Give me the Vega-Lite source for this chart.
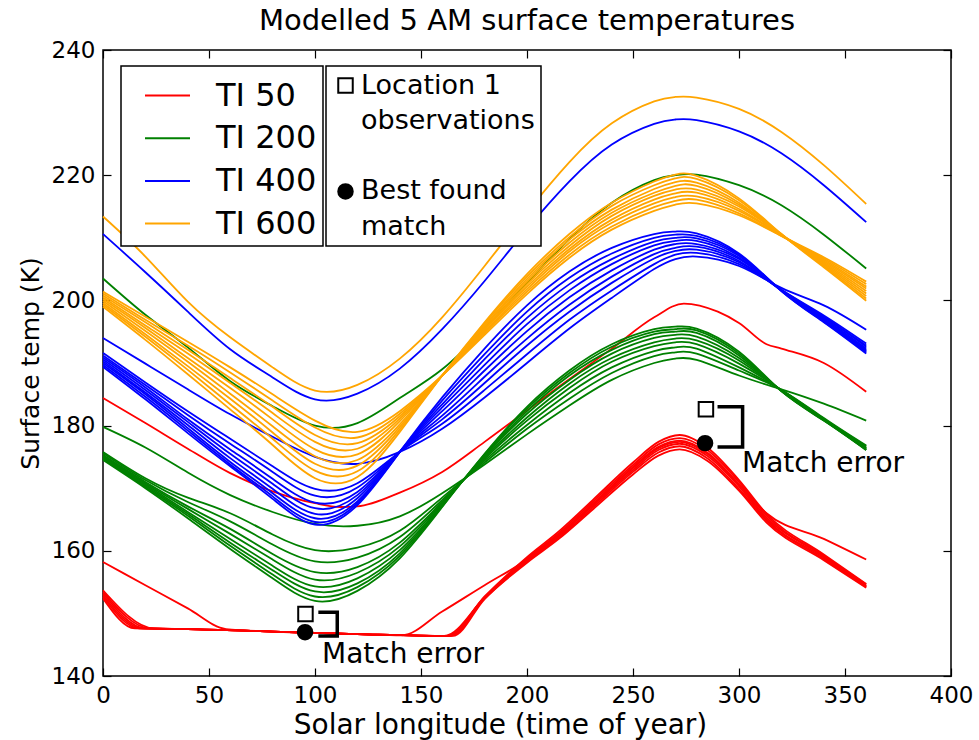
{
"$schema": "https://vega.github.io/schema/vega-lite/v6.json",
"width": 848, "height": 626,
"autosize": {"type": "none"},
"padding": {"left": 103, "top": 50, "right": 28, "bottom": 64},
"title": {"text": "Modelled 5 AM surface temperatures", "font": "DejaVu Sans", "fontSize": 29, "fontWeight": "normal", "color": "black", "offset": 3},
"config": {
  "view": {"stroke": "black", "strokeWidth": 1.5},
  "font": "DejaVu Sans",
  "axis": {"labelFont": "DejaVu Sans", "titleFont": "DejaVu Sans", "labelColor": "black", "titleColor": "black", "tickColor": "black", "domain": false, "grid": false, "titleFontWeight": "normal"},
  "legend": {"labelFont": "DejaVu Sans", "labelColor": "black", "strokeColor": "black", "fillColor": "white", "strokeWidth": 1.5}
},
"datasets": {
"curves": [
{"g":"TI 50","k":0,"x":0,"y":184.4},{"g":"TI 50","k":0,"x":20,"y":180.4},{"g":"TI 50","k":0,"x":40,"y":176.3},{"g":"TI 50","k":0,"x":60,"y":172.4},{"g":"TI 50","k":0,"x":80,"y":169.5},{"g":"TI 50","k":0,"x":100,"y":167.6},{"g":"TI 50","k":0,"x":112,"y":167.0},{"g":"TI 50","k":0,"x":120,"y":167.1},{"g":"TI 50","k":0,"x":140,"y":169.3},{"g":"TI 50","k":0,"x":160,"y":172.6},{"g":"TI 50","k":0,"x":180,"y":177.4},{"g":"TI 50","k":0,"x":200,"y":182.4},{"g":"TI 50","k":0,"x":215,"y":186.2},{"g":"TI 50","k":0,"x":240,"y":192.3},{"g":"TI 50","k":0,"x":260,"y":197.3},{"g":"TI 50","k":0,"x":274,"y":199.5},{"g":"TI 50","k":0,"x":290,"y":198.2},{"g":"TI 50","k":0,"x":300,"y":196.4},{"g":"TI 50","k":0,"x":313,"y":193.0},{"g":"TI 50","k":0,"x":320,"y":192.3},{"g":"TI 50","k":0,"x":340,"y":190.0},{"g":"TI 50","k":0,"x":360,"y":185.4},
{"g":"TI 50","k":1,"x":0,"y":158.2},{"g":"TI 50","k":1,"x":20,"y":154.5},{"g":"TI 50","k":1,"x":40,"y":150.8},{"g":"TI 50","k":1,"x":58,"y":147.5},{"g":"TI 50","k":1,"x":80,"y":147.1},{"g":"TI 50","k":1,"x":120,"y":146.7},{"g":"TI 50","k":1,"x":141,"y":146.5},{"g":"TI 50","k":1,"x":160,"y":150.3},{"g":"TI 50","k":1,"x":180,"y":154.5},{"g":"TI 50","k":1,"x":200,"y":158.6},{"g":"TI 50","k":1,"x":215,"y":162.5},{"g":"TI 50","k":1,"x":231,"y":167.4},{"g":"TI 50","k":1,"x":250,"y":173.2},{"g":"TI 50","k":1,"x":262,"y":176.4},{"g":"TI 50","k":1,"x":272,"y":177.4},{"g":"TI 50","k":1,"x":285,"y":175.5},{"g":"TI 50","k":1,"x":300,"y":170.6},{"g":"TI 50","k":1,"x":313,"y":166.0},{"g":"TI 50","k":1,"x":340,"y":161.9},{"g":"TI 50","k":1,"x":360,"y":158.6},
{"g":"TI 50","k":2,"x":0,"y":153.7},{"g":"TI 50","k":2,"x":24,"y":147.6},{"g":"TI 50","k":2,"x":40,"y":147.5},{"g":"TI 50","k":2,"x":80,"y":147.1},{"g":"TI 50","k":2,"x":120,"y":146.7},{"g":"TI 50","k":2,"x":163,"y":146.4},{"g":"TI 50","k":2,"x":180,"y":152.7},{"g":"TI 50","k":2,"x":200,"y":159.0},{"g":"TI 50","k":2,"x":215,"y":163.1},{"g":"TI 50","k":2,"x":231,"y":168.1},{"g":"TI 50","k":2,"x":250,"y":174.1},{"g":"TI 50","k":2,"x":262,"y":177.4},{"g":"TI 50","k":2,"x":272,"y":178.5},{"g":"TI 50","k":2,"x":285,"y":176.5},{"g":"TI 50","k":2,"x":300,"y":171.3},{"g":"TI 50","k":2,"x":313,"y":165.9},{"g":"TI 50","k":2,"x":340,"y":159.4},{"g":"TI 50","k":2,"x":360,"y":154.7},
{"g":"TI 50","k":3,"x":0,"y":153.45},{"g":"TI 50","k":3,"x":22,"y":147.6},{"g":"TI 50","k":3,"x":40,"y":147.5},{"g":"TI 50","k":3,"x":80,"y":147.1},{"g":"TI 50","k":3,"x":120,"y":146.7},{"g":"TI 50","k":3,"x":162,"y":146.4},{"g":"TI 50","k":3,"x":180,"y":152.6},{"g":"TI 50","k":3,"x":200,"y":158.8},{"g":"TI 50","k":3,"x":215,"y":162.8},{"g":"TI 50","k":3,"x":231,"y":167.8},{"g":"TI 50","k":3,"x":250,"y":173.7},{"g":"TI 50","k":3,"x":262,"y":177.0},{"g":"TI 50","k":3,"x":272,"y":178.0},{"g":"TI 50","k":3,"x":285,"y":176.1},{"g":"TI 50","k":3,"x":300,"y":171.0},{"g":"TI 50","k":3,"x":313,"y":165.6},{"g":"TI 50","k":3,"x":340,"y":159.2},{"g":"TI 50","k":3,"x":360,"y":154.6},
{"g":"TI 50","k":4,"x":0,"y":153.2},{"g":"TI 50","k":4,"x":20,"y":147.6},{"g":"TI 50","k":4,"x":40,"y":147.5},{"g":"TI 50","k":4,"x":80,"y":147.1},{"g":"TI 50","k":4,"x":120,"y":146.7},{"g":"TI 50","k":4,"x":161,"y":146.4},{"g":"TI 50","k":4,"x":180,"y":152.5},{"g":"TI 50","k":4,"x":200,"y":158.7},{"g":"TI 50","k":4,"x":215,"y":162.6},{"g":"TI 50","k":4,"x":231,"y":167.5},{"g":"TI 50","k":4,"x":250,"y":173.4},{"g":"TI 50","k":4,"x":262,"y":176.6},{"g":"TI 50","k":4,"x":272,"y":177.6},{"g":"TI 50","k":4,"x":285,"y":175.7},{"g":"TI 50","k":4,"x":300,"y":170.6},{"g":"TI 50","k":4,"x":313,"y":165.3},{"g":"TI 50","k":4,"x":340,"y":159.1},{"g":"TI 50","k":4,"x":360,"y":154.4},
{"g":"TI 50","k":5,"x":0,"y":152.9},{"g":"TI 50","k":5,"x":18.5,"y":147.6},{"g":"TI 50","k":5,"x":40,"y":147.5},{"g":"TI 50","k":5,"x":80,"y":147.1},{"g":"TI 50","k":5,"x":120,"y":146.7},{"g":"TI 50","k":5,"x":164,"y":146.4},{"g":"TI 50","k":5,"x":180,"y":152.4},{"g":"TI 50","k":5,"x":200,"y":158.5},{"g":"TI 50","k":5,"x":215,"y":162.3},{"g":"TI 50","k":5,"x":231,"y":167.2},{"g":"TI 50","k":5,"x":250,"y":172.9},{"g":"TI 50","k":5,"x":262,"y":176.1},{"g":"TI 50","k":5,"x":272,"y":177.1},{"g":"TI 50","k":5,"x":285,"y":175.2},{"g":"TI 50","k":5,"x":300,"y":170.3},{"g":"TI 50","k":5,"x":313,"y":165.0},{"g":"TI 50","k":5,"x":340,"y":158.9},{"g":"TI 50","k":5,"x":360,"y":154.3},
{"g":"TI 50","k":6,"x":0,"y":152.65},{"g":"TI 50","k":6,"x":17,"y":147.6},{"g":"TI 50","k":6,"x":40,"y":147.5},{"g":"TI 50","k":6,"x":80,"y":147.1},{"g":"TI 50","k":6,"x":120,"y":146.7},{"g":"TI 50","k":6,"x":163,"y":146.4},{"g":"TI 50","k":6,"x":180,"y":152.4},{"g":"TI 50","k":6,"x":200,"y":158.3},{"g":"TI 50","k":6,"x":215,"y":162.1},{"g":"TI 50","k":6,"x":231,"y":166.9},{"g":"TI 50","k":6,"x":250,"y":172.6},{"g":"TI 50","k":6,"x":262,"y":175.7},{"g":"TI 50","k":6,"x":272,"y":176.7},{"g":"TI 50","k":6,"x":285,"y":174.8},{"g":"TI 50","k":6,"x":300,"y":169.9},{"g":"TI 50","k":6,"x":313,"y":164.8},{"g":"TI 50","k":6,"x":340,"y":158.7},{"g":"TI 50","k":6,"x":360,"y":154.2},
{"g":"TI 50","k":7,"x":0,"y":152.4},{"g":"TI 50","k":7,"x":15,"y":147.6},{"g":"TI 50","k":7,"x":40,"y":147.5},{"g":"TI 50","k":7,"x":80,"y":147.1},{"g":"TI 50","k":7,"x":120,"y":146.7},{"g":"TI 50","k":7,"x":165,"y":146.4},{"g":"TI 50","k":7,"x":180,"y":152.3},{"g":"TI 50","k":7,"x":200,"y":158.1},{"g":"TI 50","k":7,"x":215,"y":161.9},{"g":"TI 50","k":7,"x":231,"y":166.6},{"g":"TI 50","k":7,"x":250,"y":172.2},{"g":"TI 50","k":7,"x":262,"y":175.2},{"g":"TI 50","k":7,"x":272,"y":176.2},{"g":"TI 50","k":7,"x":285,"y":174.4},{"g":"TI 50","k":7,"x":300,"y":169.6},{"g":"TI 50","k":7,"x":313,"y":164.5},{"g":"TI 50","k":7,"x":340,"y":158.5},{"g":"TI 50","k":7,"x":360,"y":154.1},

{"g":"TI 200","k":0,"x":0,"y":203.5},{"g":"TI 200","k":0,"x":20,"y":197.7},{"g":"TI 200","k":0,"x":40,"y":192.5},{"g":"TI 200","k":0,"x":60,"y":187.1},{"g":"TI 200","k":0,"x":80,"y":183.1},{"g":"TI 200","k":0,"x":100,"y":180.0},{"g":"TI 200","k":0,"x":120,"y":180.4},{"g":"TI 200","k":0,"x":140,"y":184.4},{"g":"TI 200","k":0,"x":160,"y":189.0},{"g":"TI 200","k":0,"x":180,"y":195.5},{"g":"TI 200","k":0,"x":200,"y":202.8},{"g":"TI 200","k":0,"x":220,"y":209.8},{"g":"TI 200","k":0,"x":240,"y":215.6},{"g":"TI 200","k":0,"x":260,"y":219.2},{"g":"TI 200","k":0,"x":270,"y":220.0},{"g":"TI 200","k":0,"x":280,"y":220.1},{"g":"TI 200","k":0,"x":300,"y":218.4},{"g":"TI 200","k":0,"x":320,"y":215.2},{"g":"TI 200","k":0,"x":340,"y":210.5},{"g":"TI 200","k":0,"x":360,"y":205.1},
{"g":"TI 200","k":1,"x":0,"y":179.8},{"g":"TI 200","k":1,"x":20,"y":176.5},{"g":"TI 200","k":1,"x":40,"y":172.5},{"g":"TI 200","k":1,"x":60,"y":168.9},{"g":"TI 200","k":1,"x":80,"y":166.2},{"g":"TI 200","k":1,"x":100,"y":164.3},{"g":"TI 200","k":1,"x":120,"y":164.0},{"g":"TI 200","k":1,"x":140,"y":165.5},{"g":"TI 200","k":1,"x":160,"y":169.2},{"g":"TI 200","k":1,"x":180,"y":173.8},{"g":"TI 200","k":1,"x":200,"y":178.6},{"g":"TI 200","k":1,"x":220,"y":183.2},{"g":"TI 200","k":1,"x":240,"y":187.3},{"g":"TI 200","k":1,"x":260,"y":190.0},{"g":"TI 200","k":1,"x":270,"y":190.7},{"g":"TI 200","k":1,"x":280,"y":190.5},{"g":"TI 200","k":1,"x":300,"y":188.0},{"g":"TI 200","k":1,"x":320,"y":185.8},{"g":"TI 200","k":1,"x":340,"y":183.5},{"g":"TI 200","k":1,"x":360,"y":180.8},
{"g":"TI 200","k":2,"x":0,"y":175.8},{"g":"TI 200","k":2,"x":20,"y":171.6},{"g":"TI 200","k":2,"x":40,"y":168.5},{"g":"TI 200","k":2,"x":60,"y":166.0},{"g":"TI 200","k":2,"x":80,"y":162.6},{"g":"TI 200","k":2,"x":100,"y":160.1},{"g":"TI 200","k":2,"x":120,"y":160.5},{"g":"TI 200","k":2,"x":140,"y":163.2},{"g":"TI 200","k":2,"x":160,"y":168.5},{"g":"TI 200","k":2,"x":180,"y":174.1},{"g":"TI 200","k":2,"x":200,"y":179.5},{"g":"TI 200","k":2,"x":220,"y":184.3},{"g":"TI 200","k":2,"x":240,"y":188.4},{"g":"TI 200","k":2,"x":260,"y":191.1},{"g":"TI 200","k":2,"x":270,"y":191.7},{"g":"TI 200","k":2,"x":280,"y":191.5},{"g":"TI 200","k":2,"x":300,"y":188.8},{"g":"TI 200","k":2,"x":320,"y":185.7},{"g":"TI 200","k":2,"x":340,"y":181.2},{"g":"TI 200","k":2,"x":360,"y":176.8},
{"g":"TI 200","k":3,"x":0,"y":175.6},{"g":"TI 200","k":3,"x":20,"y":171.3},{"g":"TI 200","k":3,"x":40,"y":167.8},{"g":"TI 200","k":3,"x":60,"y":164.7},{"g":"TI 200","k":3,"x":80,"y":161.0},{"g":"TI 200","k":3,"x":100,"y":158.3},{"g":"TI 200","k":3,"x":120,"y":158.9},{"g":"TI 200","k":3,"x":140,"y":162.2},{"g":"TI 200","k":3,"x":160,"y":168.1},{"g":"TI 200","k":3,"x":180,"y":174.4},{"g":"TI 200","k":3,"x":200,"y":180.1},{"g":"TI 200","k":3,"x":220,"y":185.2},{"g":"TI 200","k":3,"x":240,"y":189.3},{"g":"TI 200","k":3,"x":260,"y":191.9},{"g":"TI 200","k":3,"x":270,"y":192.5},{"g":"TI 200","k":3,"x":280,"y":192.3},{"g":"TI 200","k":3,"x":300,"y":189.3},{"g":"TI 200","k":3,"x":320,"y":185.7},{"g":"TI 200","k":3,"x":340,"y":181.1},{"g":"TI 200","k":3,"x":360,"y":176.7},
{"g":"TI 200","k":4,"x":0,"y":175.3},{"g":"TI 200","k":4,"x":20,"y":171.0},{"g":"TI 200","k":4,"x":40,"y":167.1},{"g":"TI 200","k":4,"x":60,"y":163.5},{"g":"TI 200","k":4,"x":80,"y":159.5},{"g":"TI 200","k":4,"x":100,"y":156.6},{"g":"TI 200","k":4,"x":120,"y":157.4},{"g":"TI 200","k":4,"x":140,"y":161.3},{"g":"TI 200","k":4,"x":160,"y":167.8},{"g":"TI 200","k":4,"x":180,"y":174.7},{"g":"TI 200","k":4,"x":200,"y":180.8},{"g":"TI 200","k":4,"x":220,"y":186.0},{"g":"TI 200","k":4,"x":240,"y":190.2},{"g":"TI 200","k":4,"x":260,"y":192.7},{"g":"TI 200","k":4,"x":270,"y":193.3},{"g":"TI 200","k":4,"x":280,"y":193.0},{"g":"TI 200","k":4,"x":300,"y":189.9},{"g":"TI 200","k":4,"x":320,"y":185.7},{"g":"TI 200","k":4,"x":340,"y":181.0},{"g":"TI 200","k":4,"x":360,"y":176.5},
{"g":"TI 200","k":5,"x":0,"y":175.1},{"g":"TI 200","k":5,"x":20,"y":170.8},{"g":"TI 200","k":5,"x":40,"y":166.7},{"g":"TI 200","k":5,"x":60,"y":162.7},{"g":"TI 200","k":5,"x":80,"y":158.6},{"g":"TI 200","k":5,"x":100,"y":155.4},{"g":"TI 200","k":5,"x":120,"y":156.5},{"g":"TI 200","k":5,"x":140,"y":160.7},{"g":"TI 200","k":5,"x":160,"y":167.6},{"g":"TI 200","k":5,"x":180,"y":174.9},{"g":"TI 200","k":5,"x":200,"y":181.3},{"g":"TI 200","k":5,"x":220,"y":186.7},{"g":"TI 200","k":5,"x":240,"y":190.8},{"g":"TI 200","k":5,"x":260,"y":193.3},{"g":"TI 200","k":5,"x":270,"y":193.9},{"g":"TI 200","k":5,"x":280,"y":193.6},{"g":"TI 200","k":5,"x":300,"y":190.4},{"g":"TI 200","k":5,"x":320,"y":185.6},{"g":"TI 200","k":5,"x":340,"y":181.0},{"g":"TI 200","k":5,"x":360,"y":176.4},
{"g":"TI 200","k":6,"x":0,"y":175.0},{"g":"TI 200","k":6,"x":20,"y":170.6},{"g":"TI 200","k":6,"x":40,"y":166.2},{"g":"TI 200","k":6,"x":60,"y":161.9},{"g":"TI 200","k":6,"x":80,"y":157.6},{"g":"TI 200","k":6,"x":100,"y":154.3},{"g":"TI 200","k":6,"x":120,"y":155.6},{"g":"TI 200","k":6,"x":140,"y":160.1},{"g":"TI 200","k":6,"x":160,"y":167.4},{"g":"TI 200","k":6,"x":180,"y":175.1},{"g":"TI 200","k":6,"x":200,"y":181.9},{"g":"TI 200","k":6,"x":220,"y":187.3},{"g":"TI 200","k":6,"x":240,"y":191.5},{"g":"TI 200","k":6,"x":260,"y":194.0},{"g":"TI 200","k":6,"x":270,"y":194.5},{"g":"TI 200","k":6,"x":280,"y":194.2},{"g":"TI 200","k":6,"x":300,"y":190.8},{"g":"TI 200","k":6,"x":320,"y":185.6},{"g":"TI 200","k":6,"x":340,"y":180.9},{"g":"TI 200","k":6,"x":360,"y":176.3},
{"g":"TI 200","k":7,"x":0,"y":174.8},{"g":"TI 200","k":7,"x":20,"y":170.4},{"g":"TI 200","k":7,"x":40,"y":165.9},{"g":"TI 200","k":7,"x":60,"y":161.3},{"g":"TI 200","k":7,"x":80,"y":156.9},{"g":"TI 200","k":7,"x":100,"y":153.5},{"g":"TI 200","k":7,"x":120,"y":154.8},{"g":"TI 200","k":7,"x":140,"y":159.6},{"g":"TI 200","k":7,"x":160,"y":167.3},{"g":"TI 200","k":7,"x":180,"y":175.2},{"g":"TI 200","k":7,"x":200,"y":182.3},{"g":"TI 200","k":7,"x":220,"y":188.0},{"g":"TI 200","k":7,"x":240,"y":192.1},{"g":"TI 200","k":7,"x":260,"y":194.6},{"g":"TI 200","k":7,"x":270,"y":195.0},{"g":"TI 200","k":7,"x":280,"y":194.8},{"g":"TI 200","k":7,"x":300,"y":191.2},{"g":"TI 200","k":7,"x":320,"y":185.5},{"g":"TI 200","k":7,"x":340,"y":180.9},{"g":"TI 200","k":7,"x":360,"y":176.2},
{"g":"TI 200","k":8,"x":0,"y":174.7},{"g":"TI 200","k":8,"x":20,"y":170.2},{"g":"TI 200","k":8,"x":40,"y":165.6},{"g":"TI 200","k":8,"x":60,"y":160.8},{"g":"TI 200","k":8,"x":80,"y":156.2},{"g":"TI 200","k":8,"x":100,"y":152.7},{"g":"TI 200","k":8,"x":120,"y":154.2},{"g":"TI 200","k":8,"x":140,"y":159.2},{"g":"TI 200","k":8,"x":160,"y":167.1},{"g":"TI 200","k":8,"x":180,"y":175.4},{"g":"TI 200","k":8,"x":200,"y":182.7},{"g":"TI 200","k":8,"x":220,"y":188.4},{"g":"TI 200","k":8,"x":240,"y":192.6},{"g":"TI 200","k":8,"x":260,"y":195.0},{"g":"TI 200","k":8,"x":270,"y":195.4},{"g":"TI 200","k":8,"x":280,"y":195.2},{"g":"TI 200","k":8,"x":300,"y":191.5},{"g":"TI 200","k":8,"x":320,"y":185.5},{"g":"TI 200","k":8,"x":340,"y":180.8},{"g":"TI 200","k":8,"x":360,"y":176.1},
{"g":"TI 200","k":9,"x":0,"y":174.5},{"g":"TI 200","k":9,"x":20,"y":170.0},{"g":"TI 200","k":9,"x":40,"y":165.2},{"g":"TI 200","k":9,"x":60,"y":160.3},{"g":"TI 200","k":9,"x":80,"y":155.6},{"g":"TI 200","k":9,"x":100,"y":152.0},{"g":"TI 200","k":9,"x":120,"y":153.6},{"g":"TI 200","k":9,"x":140,"y":158.8},{"g":"TI 200","k":9,"x":160,"y":167.0},{"g":"TI 200","k":9,"x":180,"y":175.5},{"g":"TI 200","k":9,"x":200,"y":183.0},{"g":"TI 200","k":9,"x":220,"y":188.8},{"g":"TI 200","k":9,"x":240,"y":193.0},{"g":"TI 200","k":9,"x":260,"y":195.4},{"g":"TI 200","k":9,"x":270,"y":195.8},{"g":"TI 200","k":9,"x":280,"y":195.5},{"g":"TI 200","k":9,"x":300,"y":191.8},{"g":"TI 200","k":9,"x":320,"y":185.5},{"g":"TI 200","k":9,"x":340,"y":180.8},{"g":"TI 200","k":9,"x":360,"y":176.1},

{"g":"TI 400","k":0,"x":0,"y":210.6},{"g":"TI 400","k":0,"x":20,"y":204.5},{"g":"TI 400","k":0,"x":40,"y":198.2},{"g":"TI 400","k":0,"x":60,"y":192.2},{"g":"TI 400","k":0,"x":80,"y":187.7},{"g":"TI 400","k":0,"x":100,"y":184.2},{"g":"TI 400","k":0,"x":120,"y":185.1},{"g":"TI 400","k":0,"x":140,"y":189.1},{"g":"TI 400","k":0,"x":160,"y":195.4},{"g":"TI 400","k":0,"x":180,"y":203.1},{"g":"TI 400","k":0,"x":200,"y":211.4},{"g":"TI 400","k":0,"x":220,"y":219.0},{"g":"TI 400","k":0,"x":240,"y":224.9},{"g":"TI 400","k":0,"x":260,"y":228.2},{"g":"TI 400","k":0,"x":270,"y":228.9},{"g":"TI 400","k":0,"x":280,"y":228.8},{"g":"TI 400","k":0,"x":300,"y":227.0},{"g":"TI 400","k":0,"x":320,"y":223.5},{"g":"TI 400","k":0,"x":340,"y":218.4},{"g":"TI 400","k":0,"x":360,"y":212.5},
{"g":"TI 400","k":1,"x":0,"y":194.0},{"g":"TI 400","k":1,"x":20,"y":189.9},{"g":"TI 400","k":1,"x":40,"y":185.8},{"g":"TI 400","k":1,"x":60,"y":181.8},{"g":"TI 400","k":1,"x":80,"y":178.2},{"g":"TI 400","k":1,"x":100,"y":175.0},{"g":"TI 400","k":1,"x":120,"y":173.9},{"g":"TI 400","k":1,"x":140,"y":175.8},{"g":"TI 400","k":1,"x":160,"y":179.5},{"g":"TI 400","k":1,"x":180,"y":184.5},{"g":"TI 400","k":1,"x":200,"y":190.0},{"g":"TI 400","k":1,"x":220,"y":195.5},{"g":"TI 400","k":1,"x":240,"y":200.4},{"g":"TI 400","k":1,"x":260,"y":205.0},{"g":"TI 400","k":1,"x":270,"y":206.6},{"g":"TI 400","k":1,"x":280,"y":207.0},{"g":"TI 400","k":1,"x":300,"y":205.5},{"g":"TI 400","k":1,"x":320,"y":202.0},{"g":"TI 400","k":1,"x":340,"y":199.2},{"g":"TI 400","k":1,"x":360,"y":195.3},
{"g":"TI 400","k":2,"x":0,"y":191.6},{"g":"TI 400","k":2,"x":20,"y":186.9},{"g":"TI 400","k":2,"x":40,"y":182.3},{"g":"TI 400","k":2,"x":60,"y":177.9},{"g":"TI 400","k":2,"x":80,"y":173.5},{"g":"TI 400","k":2,"x":100,"y":169.9},{"g":"TI 400","k":2,"x":120,"y":170.8},{"g":"TI 400","k":2,"x":140,"y":175.8},{"g":"TI 400","k":2,"x":160,"y":180.3},{"g":"TI 400","k":2,"x":180,"y":185.7},{"g":"TI 400","k":2,"x":200,"y":191.4},{"g":"TI 400","k":2,"x":220,"y":196.9},{"g":"TI 400","k":2,"x":240,"y":201.6},{"g":"TI 400","k":2,"x":260,"y":205.8},{"g":"TI 400","k":2,"x":270,"y":207.3},{"g":"TI 400","k":2,"x":280,"y":207.6},{"g":"TI 400","k":2,"x":300,"y":205.8},{"g":"TI 400","k":2,"x":320,"y":201.7},{"g":"TI 400","k":2,"x":340,"y":197.6},{"g":"TI 400","k":2,"x":360,"y":193.1},
{"g":"TI 400","k":3,"x":0,"y":191.2},{"g":"TI 400","k":3,"x":20,"y":186.5},{"g":"TI 400","k":3,"x":40,"y":181.7},{"g":"TI 400","k":3,"x":60,"y":177.1},{"g":"TI 400","k":3,"x":80,"y":172.6},{"g":"TI 400","k":3,"x":100,"y":168.8},{"g":"TI 400","k":3,"x":120,"y":170.1},{"g":"TI 400","k":3,"x":140,"y":175.8},{"g":"TI 400","k":3,"x":160,"y":181.0},{"g":"TI 400","k":3,"x":180,"y":186.8},{"g":"TI 400","k":3,"x":200,"y":192.8},{"g":"TI 400","k":3,"x":220,"y":198.2},{"g":"TI 400","k":3,"x":240,"y":202.8},{"g":"TI 400","k":3,"x":260,"y":206.7},{"g":"TI 400","k":3,"x":270,"y":207.9},{"g":"TI 400","k":3,"x":280,"y":208.1},{"g":"TI 400","k":3,"x":300,"y":206.1},{"g":"TI 400","k":3,"x":320,"y":201.7},{"g":"TI 400","k":3,"x":340,"y":197.4},{"g":"TI 400","k":3,"x":360,"y":192.8},
{"g":"TI 400","k":4,"x":0,"y":190.9},{"g":"TI 400","k":4,"x":20,"y":186.1},{"g":"TI 400","k":4,"x":40,"y":181.0},{"g":"TI 400","k":4,"x":60,"y":176.2},{"g":"TI 400","k":4,"x":80,"y":171.5},{"g":"TI 400","k":4,"x":100,"y":167.7},{"g":"TI 400","k":4,"x":120,"y":169.4},{"g":"TI 400","k":4,"x":140,"y":175.8},{"g":"TI 400","k":4,"x":160,"y":181.6},{"g":"TI 400","k":4,"x":180,"y":187.8},{"g":"TI 400","k":4,"x":200,"y":193.9},{"g":"TI 400","k":4,"x":220,"y":199.3},{"g":"TI 400","k":4,"x":240,"y":203.8},{"g":"TI 400","k":4,"x":260,"y":207.4},{"g":"TI 400","k":4,"x":270,"y":208.4},{"g":"TI 400","k":4,"x":280,"y":208.6},{"g":"TI 400","k":4,"x":300,"y":206.3},{"g":"TI 400","k":4,"x":320,"y":201.6},{"g":"TI 400","k":4,"x":340,"y":197.3},{"g":"TI 400","k":4,"x":360,"y":192.6},
{"g":"TI 400","k":5,"x":0,"y":190.6},{"g":"TI 400","k":5,"x":20,"y":185.7},{"g":"TI 400","k":5,"x":40,"y":180.6},{"g":"TI 400","k":5,"x":60,"y":175.5},{"g":"TI 400","k":5,"x":80,"y":170.7},{"g":"TI 400","k":5,"x":100,"y":166.8},{"g":"TI 400","k":5,"x":120,"y":168.9},{"g":"TI 400","k":5,"x":140,"y":175.8},{"g":"TI 400","k":5,"x":160,"y":182.3},{"g":"TI 400","k":5,"x":180,"y":188.8},{"g":"TI 400","k":5,"x":200,"y":195.1},{"g":"TI 400","k":5,"x":220,"y":200.5},{"g":"TI 400","k":5,"x":240,"y":204.8},{"g":"TI 400","k":5,"x":260,"y":208.1},{"g":"TI 400","k":5,"x":270,"y":209.0},{"g":"TI 400","k":5,"x":280,"y":209.0},{"g":"TI 400","k":5,"x":300,"y":206.6},{"g":"TI 400","k":5,"x":320,"y":201.6},{"g":"TI 400","k":5,"x":340,"y":197.1},{"g":"TI 400","k":5,"x":360,"y":192.3},
{"g":"TI 400","k":6,"x":0,"y":190.3},{"g":"TI 400","k":6,"x":20,"y":185.3},{"g":"TI 400","k":6,"x":40,"y":180.1},{"g":"TI 400","k":6,"x":60,"y":174.8},{"g":"TI 400","k":6,"x":80,"y":169.9},{"g":"TI 400","k":6,"x":100,"y":165.9},{"g":"TI 400","k":6,"x":120,"y":168.4},{"g":"TI 400","k":6,"x":140,"y":175.8},{"g":"TI 400","k":6,"x":160,"y":182.9},{"g":"TI 400","k":6,"x":180,"y":189.7},{"g":"TI 400","k":6,"x":200,"y":196.2},{"g":"TI 400","k":6,"x":220,"y":201.6},{"g":"TI 400","k":6,"x":240,"y":205.8},{"g":"TI 400","k":6,"x":260,"y":208.8},{"g":"TI 400","k":6,"x":270,"y":209.5},{"g":"TI 400","k":6,"x":280,"y":209.5},{"g":"TI 400","k":6,"x":300,"y":206.8},{"g":"TI 400","k":6,"x":320,"y":201.6},{"g":"TI 400","k":6,"x":340,"y":196.9},{"g":"TI 400","k":6,"x":360,"y":192.1},
{"g":"TI 400","k":7,"x":0,"y":190.0},{"g":"TI 400","k":7,"x":20,"y":185.0},{"g":"TI 400","k":7,"x":40,"y":179.6},{"g":"TI 400","k":7,"x":60,"y":174.2},{"g":"TI 400","k":7,"x":80,"y":169.2},{"g":"TI 400","k":7,"x":100,"y":165.2},{"g":"TI 400","k":7,"x":120,"y":167.9},{"g":"TI 400","k":7,"x":140,"y":175.8},{"g":"TI 400","k":7,"x":160,"y":183.4},{"g":"TI 400","k":7,"x":180,"y":190.6},{"g":"TI 400","k":7,"x":200,"y":197.2},{"g":"TI 400","k":7,"x":220,"y":202.6},{"g":"TI 400","k":7,"x":240,"y":206.6},{"g":"TI 400","k":7,"x":260,"y":209.4},{"g":"TI 400","k":7,"x":270,"y":210.0},{"g":"TI 400","k":7,"x":280,"y":209.9},{"g":"TI 400","k":7,"x":300,"y":207.1},{"g":"TI 400","k":7,"x":320,"y":201.6},{"g":"TI 400","k":7,"x":340,"y":196.8},{"g":"TI 400","k":7,"x":360,"y":191.9},
{"g":"TI 400","k":8,"x":0,"y":189.7},{"g":"TI 400","k":8,"x":20,"y":184.6},{"g":"TI 400","k":8,"x":40,"y":179.2},{"g":"TI 400","k":8,"x":60,"y":173.8},{"g":"TI 400","k":8,"x":80,"y":168.7},{"g":"TI 400","k":8,"x":100,"y":164.6},{"g":"TI 400","k":8,"x":120,"y":167.6},{"g":"TI 400","k":8,"x":140,"y":175.8},{"g":"TI 400","k":8,"x":160,"y":184.0},{"g":"TI 400","k":8,"x":180,"y":191.4},{"g":"TI 400","k":8,"x":200,"y":198.2},{"g":"TI 400","k":8,"x":220,"y":203.6},{"g":"TI 400","k":8,"x":240,"y":207.5},{"g":"TI 400","k":8,"x":260,"y":210.0},{"g":"TI 400","k":8,"x":270,"y":210.5},{"g":"TI 400","k":8,"x":280,"y":210.3},{"g":"TI 400","k":8,"x":300,"y":207.3},{"g":"TI 400","k":8,"x":320,"y":201.5},{"g":"TI 400","k":8,"x":340,"y":196.6},{"g":"TI 400","k":8,"x":360,"y":191.7},
{"g":"TI 400","k":9,"x":0,"y":189.4},{"g":"TI 400","k":9,"x":20,"y":184.2},{"g":"TI 400","k":9,"x":40,"y":178.8},{"g":"TI 400","k":9,"x":60,"y":173.5},{"g":"TI 400","k":9,"x":80,"y":168.3},{"g":"TI 400","k":9,"x":100,"y":164.2},{"g":"TI 400","k":9,"x":120,"y":167.3},{"g":"TI 400","k":9,"x":140,"y":175.8},{"g":"TI 400","k":9,"x":160,"y":184.5},{"g":"TI 400","k":9,"x":180,"y":192.3},{"g":"TI 400","k":9,"x":200,"y":199.2},{"g":"TI 400","k":9,"x":220,"y":204.6},{"g":"TI 400","k":9,"x":240,"y":208.4},{"g":"TI 400","k":9,"x":260,"y":210.6},{"g":"TI 400","k":9,"x":270,"y":211.0},{"g":"TI 400","k":9,"x":280,"y":210.7},{"g":"TI 400","k":9,"x":300,"y":207.5},{"g":"TI 400","k":9,"x":320,"y":201.5},{"g":"TI 400","k":9,"x":340,"y":196.5},{"g":"TI 400","k":9,"x":360,"y":191.5},

{"g":"TI 600","k":0,"x":0,"y":213.4},{"g":"TI 600","k":0,"x":20,"y":207.0},{"g":"TI 600","k":0,"x":40,"y":199.8},{"g":"TI 600","k":0,"x":60,"y":194.1},{"g":"TI 600","k":0,"x":80,"y":189.3},{"g":"TI 600","k":0,"x":100,"y":185.6},{"g":"TI 600","k":0,"x":120,"y":186.5},{"g":"TI 600","k":0,"x":140,"y":190.7},{"g":"TI 600","k":0,"x":160,"y":197.3},{"g":"TI 600","k":0,"x":180,"y":205.5},{"g":"TI 600","k":0,"x":200,"y":214.1},{"g":"TI 600","k":0,"x":220,"y":222.1},{"g":"TI 600","k":0,"x":240,"y":228.3},{"g":"TI 600","k":0,"x":260,"y":231.8},{"g":"TI 600","k":0,"x":270,"y":232.5},{"g":"TI 600","k":0,"x":280,"y":232.4},{"g":"TI 600","k":0,"x":300,"y":230.6},{"g":"TI 600","k":0,"x":320,"y":226.9},{"g":"TI 600","k":0,"x":340,"y":221.6},{"g":"TI 600","k":0,"x":360,"y":215.4},
{"g":"TI 600","k":1,"x":0,"y":201.4},{"g":"TI 600","k":1,"x":20,"y":197.4},{"g":"TI 600","k":1,"x":40,"y":193.4},{"g":"TI 600","k":1,"x":60,"y":189.3},{"g":"TI 600","k":1,"x":80,"y":185.0},{"g":"TI 600","k":1,"x":100,"y":180.8},{"g":"TI 600","k":1,"x":120,"y":179.0},{"g":"TI 600","k":1,"x":140,"y":182.3},{"g":"TI 600","k":1,"x":160,"y":188.0},{"g":"TI 600","k":1,"x":180,"y":194.5},{"g":"TI 600","k":1,"x":200,"y":201.0},{"g":"TI 600","k":1,"x":220,"y":206.8},{"g":"TI 600","k":1,"x":240,"y":211.3},{"g":"TI 600","k":1,"x":260,"y":214.3},{"g":"TI 600","k":1,"x":270,"y":215.3},{"g":"TI 600","k":1,"x":280,"y":215.5},{"g":"TI 600","k":1,"x":300,"y":213.6},{"g":"TI 600","k":1,"x":320,"y":210.3},{"g":"TI 600","k":1,"x":340,"y":206.9},{"g":"TI 600","k":1,"x":360,"y":203.0},
{"g":"TI 600","k":2,"x":0,"y":201.1},{"g":"TI 600","k":2,"x":20,"y":196.9},{"g":"TI 600","k":2,"x":40,"y":192.8},{"g":"TI 600","k":2,"x":60,"y":188.5},{"g":"TI 600","k":2,"x":80,"y":184.0},{"g":"TI 600","k":2,"x":100,"y":179.7},{"g":"TI 600","k":2,"x":120,"y":178.1},{"g":"TI 600","k":2,"x":140,"y":181.9},{"g":"TI 600","k":2,"x":160,"y":188.0},{"g":"TI 600","k":2,"x":180,"y":194.8},{"g":"TI 600","k":2,"x":200,"y":201.4},{"g":"TI 600","k":2,"x":220,"y":207.3},{"g":"TI 600","k":2,"x":240,"y":211.8},{"g":"TI 600","k":2,"x":260,"y":214.9},{"g":"TI 600","k":2,"x":270,"y":215.9},{"g":"TI 600","k":2,"x":280,"y":216.1},{"g":"TI 600","k":2,"x":300,"y":213.9},{"g":"TI 600","k":2,"x":320,"y":210.3},{"g":"TI 600","k":2,"x":340,"y":206.7},{"g":"TI 600","k":2,"x":360,"y":202.6},
{"g":"TI 600","k":3,"x":0,"y":200.8},{"g":"TI 600","k":3,"x":20,"y":196.5},{"g":"TI 600","k":3,"x":40,"y":192.1},{"g":"TI 600","k":3,"x":60,"y":187.6},{"g":"TI 600","k":3,"x":80,"y":183.0},{"g":"TI 600","k":3,"x":100,"y":178.5},{"g":"TI 600","k":3,"x":120,"y":177.2},{"g":"TI 600","k":3,"x":140,"y":181.5},{"g":"TI 600","k":3,"x":160,"y":188.0},{"g":"TI 600","k":3,"x":180,"y":195.0},{"g":"TI 600","k":3,"x":200,"y":201.8},{"g":"TI 600","k":3,"x":220,"y":207.8},{"g":"TI 600","k":3,"x":240,"y":212.4},{"g":"TI 600","k":3,"x":260,"y":215.5},{"g":"TI 600","k":3,"x":270,"y":216.5},{"g":"TI 600","k":3,"x":280,"y":216.6},{"g":"TI 600","k":3,"x":300,"y":214.3},{"g":"TI 600","k":3,"x":320,"y":210.4},{"g":"TI 600","k":3,"x":340,"y":206.5},{"g":"TI 600","k":3,"x":360,"y":202.2},
{"g":"TI 600","k":4,"x":0,"y":200.5},{"g":"TI 600","k":4,"x":20,"y":196.0},{"g":"TI 600","k":4,"x":40,"y":191.5},{"g":"TI 600","k":4,"x":60,"y":186.8},{"g":"TI 600","k":4,"x":80,"y":182.0},{"g":"TI 600","k":4,"x":100,"y":177.4},{"g":"TI 600","k":4,"x":120,"y":176.3},{"g":"TI 600","k":4,"x":140,"y":181.1},{"g":"TI 600","k":4,"x":160,"y":188.0},{"g":"TI 600","k":4,"x":180,"y":195.3},{"g":"TI 600","k":4,"x":200,"y":202.2},{"g":"TI 600","k":4,"x":220,"y":208.2},{"g":"TI 600","k":4,"x":240,"y":212.9},{"g":"TI 600","k":4,"x":260,"y":216.1},{"g":"TI 600","k":4,"x":270,"y":217.1},{"g":"TI 600","k":4,"x":280,"y":217.2},{"g":"TI 600","k":4,"x":300,"y":214.6},{"g":"TI 600","k":4,"x":320,"y":210.4},{"g":"TI 600","k":4,"x":340,"y":206.3},{"g":"TI 600","k":4,"x":360,"y":201.9},
{"g":"TI 600","k":5,"x":0,"y":200.2},{"g":"TI 600","k":5,"x":20,"y":195.6},{"g":"TI 600","k":5,"x":40,"y":190.8},{"g":"TI 600","k":5,"x":60,"y":186.0},{"g":"TI 600","k":5,"x":80,"y":181.0},{"g":"TI 600","k":5,"x":100,"y":176.2},{"g":"TI 600","k":5,"x":120,"y":175.4},{"g":"TI 600","k":5,"x":140,"y":180.7},{"g":"TI 600","k":5,"x":160,"y":188.0},{"g":"TI 600","k":5,"x":180,"y":195.5},{"g":"TI 600","k":5,"x":200,"y":202.6},{"g":"TI 600","k":5,"x":220,"y":208.7},{"g":"TI 600","k":5,"x":240,"y":213.5},{"g":"TI 600","k":5,"x":260,"y":216.7},{"g":"TI 600","k":5,"x":270,"y":217.7},{"g":"TI 600","k":5,"x":280,"y":217.7},{"g":"TI 600","k":5,"x":300,"y":215.0},{"g":"TI 600","k":5,"x":320,"y":210.5},{"g":"TI 600","k":5,"x":340,"y":206.1},{"g":"TI 600","k":5,"x":360,"y":201.5},
{"g":"TI 600","k":6,"x":0,"y":199.9},{"g":"TI 600","k":6,"x":20,"y":195.1},{"g":"TI 600","k":6,"x":40,"y":190.2},{"g":"TI 600","k":6,"x":60,"y":185.1},{"g":"TI 600","k":6,"x":80,"y":179.9},{"g":"TI 600","k":6,"x":100,"y":175.1},{"g":"TI 600","k":6,"x":120,"y":174.5},{"g":"TI 600","k":6,"x":140,"y":180.2},{"g":"TI 600","k":6,"x":160,"y":188.0},{"g":"TI 600","k":6,"x":180,"y":195.8},{"g":"TI 600","k":6,"x":200,"y":203.0},{"g":"TI 600","k":6,"x":220,"y":209.2},{"g":"TI 600","k":6,"x":240,"y":214.0},{"g":"TI 600","k":6,"x":260,"y":217.2},{"g":"TI 600","k":6,"x":270,"y":218.3},{"g":"TI 600","k":6,"x":280,"y":218.3},{"g":"TI 600","k":6,"x":300,"y":215.3},{"g":"TI 600","k":6,"x":320,"y":210.5},{"g":"TI 600","k":6,"x":340,"y":205.9},{"g":"TI 600","k":6,"x":360,"y":201.1},
{"g":"TI 600","k":7,"x":0,"y":199.6},{"g":"TI 600","k":7,"x":20,"y":194.6},{"g":"TI 600","k":7,"x":40,"y":189.5},{"g":"TI 600","k":7,"x":60,"y":184.3},{"g":"TI 600","k":7,"x":80,"y":178.9},{"g":"TI 600","k":7,"x":100,"y":173.9},{"g":"TI 600","k":7,"x":120,"y":173.6},{"g":"TI 600","k":7,"x":140,"y":179.8},{"g":"TI 600","k":7,"x":160,"y":188.0},{"g":"TI 600","k":7,"x":180,"y":196.0},{"g":"TI 600","k":7,"x":200,"y":203.4},{"g":"TI 600","k":7,"x":220,"y":209.7},{"g":"TI 600","k":7,"x":240,"y":214.5},{"g":"TI 600","k":7,"x":260,"y":217.8},{"g":"TI 600","k":7,"x":270,"y":218.9},{"g":"TI 600","k":7,"x":280,"y":218.8},{"g":"TI 600","k":7,"x":300,"y":215.6},{"g":"TI 600","k":7,"x":320,"y":210.5},{"g":"TI 600","k":7,"x":340,"y":205.7},{"g":"TI 600","k":7,"x":360,"y":200.7},
{"g":"TI 600","k":8,"x":0,"y":199.3},{"g":"TI 600","k":8,"x":20,"y":194.2},{"g":"TI 600","k":8,"x":40,"y":188.9},{"g":"TI 600","k":8,"x":60,"y":183.4},{"g":"TI 600","k":8,"x":80,"y":177.9},{"g":"TI 600","k":8,"x":100,"y":172.8},{"g":"TI 600","k":8,"x":120,"y":172.7},{"g":"TI 600","k":8,"x":140,"y":179.4},{"g":"TI 600","k":8,"x":160,"y":188.0},{"g":"TI 600","k":8,"x":180,"y":196.3},{"g":"TI 600","k":8,"x":200,"y":203.8},{"g":"TI 600","k":8,"x":220,"y":210.1},{"g":"TI 600","k":8,"x":240,"y":215.1},{"g":"TI 600","k":8,"x":260,"y":218.4},{"g":"TI 600","k":8,"x":270,"y":219.5},{"g":"TI 600","k":8,"x":280,"y":219.4},{"g":"TI 600","k":8,"x":300,"y":216.0},{"g":"TI 600","k":8,"x":320,"y":210.6},{"g":"TI 600","k":8,"x":340,"y":205.5},{"g":"TI 600","k":8,"x":360,"y":200.3},
{"g":"TI 600","k":9,"x":0,"y":199.0},{"g":"TI 600","k":9,"x":20,"y":193.7},{"g":"TI 600","k":9,"x":40,"y":188.2},{"g":"TI 600","k":9,"x":60,"y":182.6},{"g":"TI 600","k":9,"x":80,"y":176.9},{"g":"TI 600","k":9,"x":100,"y":171.6},{"g":"TI 600","k":9,"x":120,"y":171.8},{"g":"TI 600","k":9,"x":140,"y":179.0},{"g":"TI 600","k":9,"x":160,"y":188.0},{"g":"TI 600","k":9,"x":180,"y":196.5},{"g":"TI 600","k":9,"x":200,"y":204.2},{"g":"TI 600","k":9,"x":220,"y":210.6},{"g":"TI 600","k":9,"x":240,"y":215.6},{"g":"TI 600","k":9,"x":260,"y":219.0},{"g":"TI 600","k":9,"x":270,"y":220.1},{"g":"TI 600","k":9,"x":280,"y":219.9},{"g":"TI 600","k":9,"x":300,"y":216.3},{"g":"TI 600","k":9,"x":320,"y":210.6},{"g":"TI 600","k":9,"x":340,"y":205.3},{"g":"TI 600","k":9,"x":360,"y":199.95}
],
"brackets": [
{"b":1,"o":0,"x":102.4,"y":150.2},{"b":1,"o":1,"x":110.5,"y":150.2},{"b":1,"o":2,"x":110.5,"y":146.4},{"b":1,"o":3,"x":102.4,"y":146.4},
{"b":2,"o":0,"x":290.7,"y":183.0},{"b":2,"o":1,"x":301.7,"y":183.0},{"b":2,"o":2,"x":301.7,"y":176.6},{"b":2,"o":3,"x":290.7,"y":176.6}
],
"markers": [
{"kind":"Location 1","x":95.5,"y":149.9},{"kind":"Best found","x":95.3,"y":147.0},
{"kind":"Location 1","x":284.4,"y":182.6},{"kind":"Best found","x":284.0,"y":177.2}
],
"notes": [
{"t":"Match error","x":103.3,"y":143.4},{"t":"Match error","x":301.4,"y":173.9}
]
},
"resolve": {"axis": {"x": "independent", "y": "independent"}},
"layer": [
{
 "data": {"name": "curves"},
 "transform": [{"filter": "datum.g == 'TI 50'"}],
 "mark": {"type": "line", "interpolate": "monotone", "strokeWidth": 1.8},
 "encoding": {
  "x": {"field": "x", "type": "quantitative", "scale": {"domain": [0, 400], "nice": false, "zero": false},
        "axis": {"title": "Solar longitude (time of year)", "values": [0,50,100,150,200,250,300,350,400], "labelFontSize": 23, "titleFontSize": 28, "tickSize": -8, "tickWidth": 1.2, "labelPadding": 16, "titlePadding": 4, "titleX": 397, "labelFlush": false}},
  "y": {"field": "y", "type": "quantitative", "scale": {"domain": [140, 240], "nice": false, "zero": false},
        "axis": {"title": "Surface temp (K)", "values": [140,160,180,200,220,240], "labelFontSize": 23, "titleFontSize": 25, "tickSize": -8, "tickWidth": 1.2, "labelPadding": 16, "titlePadding": 8, "labelFlush": false}},
  "color": {"field": "g", "type": "nominal",
            "scale": {"domain": ["TI 50", "TI 200", "TI 400", "TI 600"], "range": ["#ff0000", "#008000", "#0000ff", "#ffa500"]},
            "legend": {"orient": "none", "legendX": 18, "legendY": 16, "title": null, "symbolType": "stroke", "symbolSize": 2025, "symbolStrokeWidth": 2, "symbolOffset": 17, "labelFontSize": 32, "labelOffset": 25, "rowPadding": 2.7, "padding": 6}},
  "detail": {"field": "k", "type": "nominal"}
 }
},
{
 "data": {"name": "curves"},
 "transform": [{"filter": "datum.g != 'TI 50'"}],
 "mark": {"type": "line", "interpolate": "natural", "strokeWidth": 1.8},
 "encoding": {
  "x": {"field": "x", "type": "quantitative", "scale": {"domain": [0, 400], "nice": false, "zero": false}, "axis": null},
  "y": {"field": "y", "type": "quantitative", "scale": {"domain": [140, 240], "nice": false, "zero": false}, "axis": null},
  "color": {"field": "g", "type": "nominal",
            "scale": {"domain": ["TI 50", "TI 200", "TI 400", "TI 600"], "range": ["#ff0000", "#008000", "#0000ff", "#ffa500"]},
            "legend": {"orient": "none", "legendX": 18, "legendY": 16, "title": null, "symbolType": "stroke", "symbolSize": 2025, "symbolStrokeWidth": 2, "symbolOffset": 17, "labelFontSize": 32, "labelOffset": 25, "rowPadding": 2.7, "padding": 6}},
  "detail": {"field": "k", "type": "nominal"}
 }
},
{
 "data": {"name": "brackets"},
 "mark": {"type": "line", "color": "black", "strokeWidth": 3.5, "strokeCap": "square"},
 "encoding": {
  "x": {"field": "x", "type": "quantitative", "scale": {"domain": [0, 400], "nice": false, "zero": false},
        "axis": {"orient": "top", "title": null, "labels": false, "values": [0,50,100,150,200,250,300,350,400], "tickSize": -8, "tickWidth": 1.2}},
  "y": {"field": "y", "type": "quantitative", "scale": {"domain": [140, 240], "nice": false, "zero": false},
        "axis": {"orient": "right", "title": null, "labels": false, "values": [140,160,180,200,220,240], "tickSize": -8, "tickWidth": 1.2}},
  "detail": {"field": "b", "type": "nominal"},
  "order": {"field": "o", "type": "quantitative"}
 }
},
{
 "data": {"name": "markers"},
 "mark": {"type": "point", "filled": true, "strokeWidth": 2, "opacity": 1, "size": 210},
 "encoding": {
  "x": {"field": "x", "type": "quantitative", "scale": {"domain": [0, 400], "nice": false, "zero": false}, "axis": null},
  "y": {"field": "y", "type": "quantitative", "scale": {"domain": [140, 240], "nice": false, "zero": false}, "axis": null},
  "shape": {"field": "kind", "type": "nominal",
            "scale": {"domain": ["Location 1", "observations", " ", "Best found", "match"], "range": ["square", "square", "square", "circle", "circle"]},
            "legend": {"orient": "none", "legendX": 223, "legendY": 16, "title": null, "labelFontSize": 27, "labelOffset": 2, "padding": 6, "rowPadding": 7.3, "symbolOffset": 0, "symbolSize": 210, "symbolStrokeWidth": 2, "labelLimit": 400}},
  "fill": {"field": "kind", "type": "nominal",
           "scale": {"domain": ["Location 1", "observations", " ", "Best found", "match"], "range": ["white", "transparent", "transparent", "black", "transparent"]},
           "legend": {"orient": "none", "legendX": 223, "legendY": 16, "title": null, "labelFontSize": 27, "labelOffset": 2, "padding": 6, "rowPadding": 7.3, "symbolOffset": 0, "symbolSize": 210, "symbolStrokeWidth": 2, "labelLimit": 400}},
  "stroke": {"field": "kind", "type": "nominal",
           "scale": {"domain": ["Location 1", "observations", " ", "Best found", "match"], "range": ["black", "transparent", "transparent", "black", "transparent"]},
           "legend": {"orient": "none", "legendX": 223, "legendY": 16, "title": null, "labelFontSize": 27, "labelOffset": 2, "padding": 6, "rowPadding": 7.3, "symbolOffset": 0, "symbolSize": 210, "symbolStrokeWidth": 2, "labelLimit": 400}}
 }
},
{
 "data": {"name": "notes"},
 "mark": {"type": "text", "fontSize": 28, "font": "DejaVu Sans", "align": "left", "baseline": "middle", "color": "black"},
 "encoding": {
  "x": {"field": "x", "type": "quantitative", "scale": {"domain": [0, 400], "nice": false, "zero": false}, "axis": null},
  "y": {"field": "y", "type": "quantitative", "scale": {"domain": [140, 240], "nice": false, "zero": false}, "axis": null},
  "text": {"field": "t"}
 }
}
]
}
